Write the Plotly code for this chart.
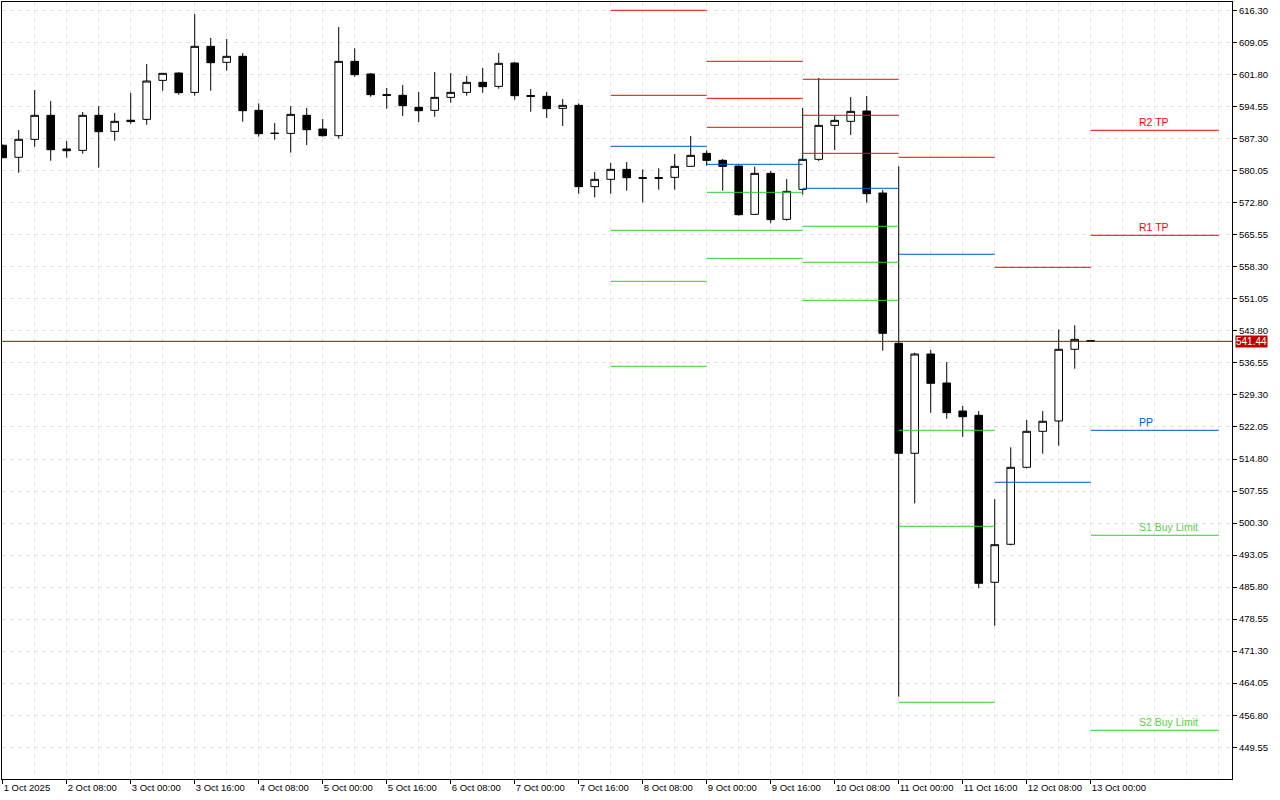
import pandas as pd
import plotly.graph_objects as go

# ---------------- data ----------------
bar_start = "2025-10-01 16:00"          # first visible H4 bar
opens = [585.83, 583.11, 587.17, 592.61, 585.00, 584.68, 592.61, 588.98, 591.50, 591.70,
         600.53, 602.19, 597.81, 608.23, 604.61, 605.97, 593.74, 588.60, 588.53, 592.61,
         589.51, 588.00, 604.83, 601.97, 597.30, 597.14, 594.42, 593.74, 596.68, 597.81,
         600.08, 599.17, 604.46, 597.10, 596.91, 594.19, 594.87, 576.46, 578.12, 580.38,
         578.50, 578.50, 578.57, 581.06, 584.00, 582.42, 581.14, 570.19, 579.48, 569.06,
         575.85, 582.65, 590.34, 591.25, 593.59, 575.02, 541.00, 516.10, 538.57, 532.01,
         525.67, 524.69, 486.89, 495.49, 512.92, 521.07, 523.41, 539.64, 541.60]
highs = [586.00, 589.29, 598.34, 595.85, 586.80, 593.36, 594.72, 593.14, 597.66, 604.23,
         602.20, 602.30, 615.55, 610.12, 609.89, 606.72, 595.32, 590.87, 594.72, 594.27,
         591.78, 612.61, 607.78, 602.19, 598.80, 599.48, 597.89, 602.42, 602.19, 601.51,
         603.32, 606.72, 604.68, 598.57, 597.89, 596.31, 595.32, 579.78, 581.82, 582.04,
         580.38, 580.61, 583.85, 587.93, 584.68, 582.72, 581.20, 580.98, 580.00, 578.19,
         594.27, 601.06, 592.46, 596.76, 596.98, 575.70, 581.07, 538.87, 539.48, 536.76,
         526.80, 525.67, 505.68, 517.45, 523.63, 525.67, 544.16, 545.07, 541.70]
lows = [582.90, 579.62, 585.51, 582.34, 583.02, 583.93, 580.76, 586.87, 590.72, 590.49,
        598.19, 597.29, 597.06, 598.19, 602.72, 591.17, 587.78, 587.10, 584.16, 585.89,
        587.78, 587.32, 601.36, 596.83, 594.12, 592.46, 591.10, 592.30, 595.48, 597.06,
        597.74, 598.65, 596.15, 593.44, 592.00, 590.19, 574.87, 574.04, 574.87, 575.55,
        572.91, 575.78, 575.78, 581.00, 581.21, 575.55, 569.89, 570.10, 568.16, 568.76,
        574.65, 582.27, 584.76, 588.15, 572.84, 539.32, 460.99, 504.77, 525.29, 523.93,
        519.85, 485.53, 477.06, 495.26, 512.70, 516.01, 517.82, 535.25, 541.40]
closes = [583.02, 587.18, 592.61, 584.83, 584.60, 592.61, 588.91, 591.25, 591.20, 600.38,
          602.12, 597.74, 608.23, 604.53, 605.97, 593.66, 588.46, 588.50, 592.83, 589.36,
          588.00, 604.83, 601.81, 597.29, 597.10, 594.80, 593.66, 596.68, 597.81, 600.08,
          599.10, 604.38, 597.06, 596.90, 594.12, 594.87, 576.46, 578.12, 580.38, 578.49,
          578.35, 578.35, 581.06, 583.55, 582.42, 581.06, 570.12, 579.48, 568.99, 575.40,
          582.65, 590.34, 591.48, 593.51, 574.87, 543.26, 516.10, 538.57, 531.94, 525.29,
          524.38, 486.66, 495.40, 512.92, 521.07, 523.34, 539.64, 541.90, 541.44]
current_price = 541.44

# daily pivot levels (start of day, end of drawn segment)
pivot_start = ["2025-10-08 00:00", "2025-10-09 00:00", "2025-10-10 00:00",
               "2025-10-11 00:00", "2025-10-12 00:00", "2025-10-13 00:00"]
pivot_end = ["2025-10-09 00:00", "2025-10-10 00:00", "2025-10-11 00:00",
             "2025-10-12 00:00", "2025-10-13 00:00", "2025-10-14 08:00"]
R3 = [None, 604.84, 600.77, None, None, None]
R2 = [616.39, 596.46, 592.62, None, None, 589.22]
R1 = [597.14, 589.90, 584.01, 583.11, 558.20, 565.45]
PP = [585.60, 581.52, 576.09, 561.15, 509.53, 521.30]
S1 = [566.58, 575.18, 567.49, 521.30, None, 497.53]
S2 = [555.03, 566.58, 559.34, 499.57, None, 453.38]
S3 = [535.79, 560.24, 550.73, 459.72, None, None]

level_labels = ["R2 TP", "R1 TP", "PP", "S1 Buy Limit", "S2 Buy Limit"]

x_tick_labels = ["1 Oct 2025", "2 Oct 08:00", "3 Oct 00:00", "3 Oct 16:00", "4 Oct 08:00",
                 "5 Oct 00:00", "5 Oct 16:00", "6 Oct 08:00", "7 Oct 00:00", "7 Oct 16:00",
                 "8 Oct 08:00", "9 Oct 00:00", "9 Oct 16:00", "10 Oct 08:00", "11 Oct 00:00",
                 "11 Oct 16:00", "12 Oct 08:00", "13 Oct 00:00"]
y_tick_labels = ["616.30", "609.05", "601.80", "594.55", "587.30", "580.05", "572.80",
                 "565.55", "558.30", "551.05", "543.80", "536.55", "529.30", "522.05",
                 "514.80", "507.55", "500.30", "493.05", "485.80", "478.55", "471.30",
                 "464.05", "456.80", "449.55"]

# ---------------- figure ----------------
t0 = pd.Timestamp(bar_start)
bar_h = pd.Timedelta(hours=4)
times = pd.date_range(t0, periods=len(opens), freq="4h")
x_ticks = [t0 + 4 * bar_h * k for k in range(len(x_tick_labels))]

RED = "#ff0000"
BLUE = "#0050dc"
GREEN = "#33cc33"
GRID = "#e2e2e2"
FONT = "Liberation Sans"

fig = go.Figure()
fig.add_trace(go.Candlestick(
    x=times, open=opens, high=highs, low=lows, close=closes,
    increasing=dict(line=dict(color="black", width=1), fillcolor="white"),
    decreasing=dict(line=dict(color="black", width=1), fillcolor="black"),
    whiskerwidth=0, hoverinfo="skip", showlegend=False,
))


def segments(levels):
    xs, ys = [], []
    for s, e, v in zip(pivot_start, pivot_end, levels):
        if v is None:
            continue
        xs += [pd.Timestamp(s), pd.Timestamp(e), None]
        ys += [v, v, None]
    return xs, ys


for levels, col in [(R3, RED), (R2, RED), (R1, RED), (PP, BLUE),
                    (S1, GREEN), (S2, GREEN), (S3, GREEN)]:
    xs, ys = segments(levels)
    fig.add_trace(go.Scatter(x=xs, y=ys, mode="lines",
                             line=dict(color=col, width=1),
                             hoverinfo="skip", showlegend=False))

# labels for the latest day's levels
last_levels = [R2[-1], R1[-1], PP[-1], S1[-1], S2[-1]]
label_cols = [RED, RED, BLUE, "#55d045", "#55d045"]
label_x = pd.Timestamp(pivot_start[-1]) + pd.Timedelta(hours=11, minutes=30)
for txt, lv, col in zip(level_labels, last_levels, label_cols):
    fig.add_annotation(x=label_x, y=lv, xref="x", yref="y", text=txt,
                       showarrow=False, xanchor="left", yanchor="bottom",
                       font=dict(family=FONT, size=10.5, color=col), borderpad=1)

# current price line + tag
fig.add_shape(type="line", xref="paper", yref="y", x0=0, x1=1,
              y0=current_price, y1=current_price,
              line=dict(color="#b00000", width=1), layer="above")
fig.add_annotation(xref="paper", yref="y", x=1, y=current_price, xshift=3,
                   text=f"{current_price:.2f}", showarrow=False,
                   xanchor="left", yanchor="middle", bgcolor="#c00000",
                   font=dict(family=FONT, size=10, color="white"), borderpad=0)

x_left = t0 + bar_h * (-0.044)
x_right = t0 + bar_h * 76.83

fig.update_layout(
    width=1280, height=800,
    margin=dict(l=2, r=48, t=2, b=21),
    paper_bgcolor="white", plot_bgcolor="white",
    showlegend=False, hovermode=False, boxgap=0.32,
    font=dict(family=FONT, size=9.5, color="black"),
    xaxis=dict(
        type="date", range=[x_left, x_right], rangeslider=dict(visible=False),
        tickmode="array", tickvals=x_ticks, ticktext=x_tick_labels,
        ticks="outside", ticklen=4, tickcolor="black",
        ticklabelposition="outside right",
        tickfont=dict(family=FONT, size=9.5, color="black"),
        showgrid=True, gridcolor=GRID, griddash="4px,4px", gridwidth=1,
        minor=dict(tick0=t0, dtick=8 * 3600 * 1000, showgrid=True,
                   gridcolor=GRID, griddash="4px,4px", ticks=""),
        showline=True, linecolor="black", linewidth=1, mirror=True,
        zeroline=False, fixedrange=True,
    ),
    yaxis=dict(
        side="right", range=[442.35, 618.27],
        tickmode="array", tickvals=[float(v) for v in y_tick_labels],
        ticktext=y_tick_labels,
        ticks="outside", ticklen=4, tickcolor="black",
        tickfont=dict(family=FONT, size=9.5, color="black"),
        showgrid=True, gridcolor=GRID, griddash="4px,4px", gridwidth=1,
        showline=True, linecolor="black", linewidth=1, mirror=True,
        zeroline=False, fixedrange=True,
    ),
)

fig.write_html("out.html", config={"displayModeBar": False},
               post_script="document.body.style.margin='0px';"
                           "document.body.style.overflow='hidden';")
